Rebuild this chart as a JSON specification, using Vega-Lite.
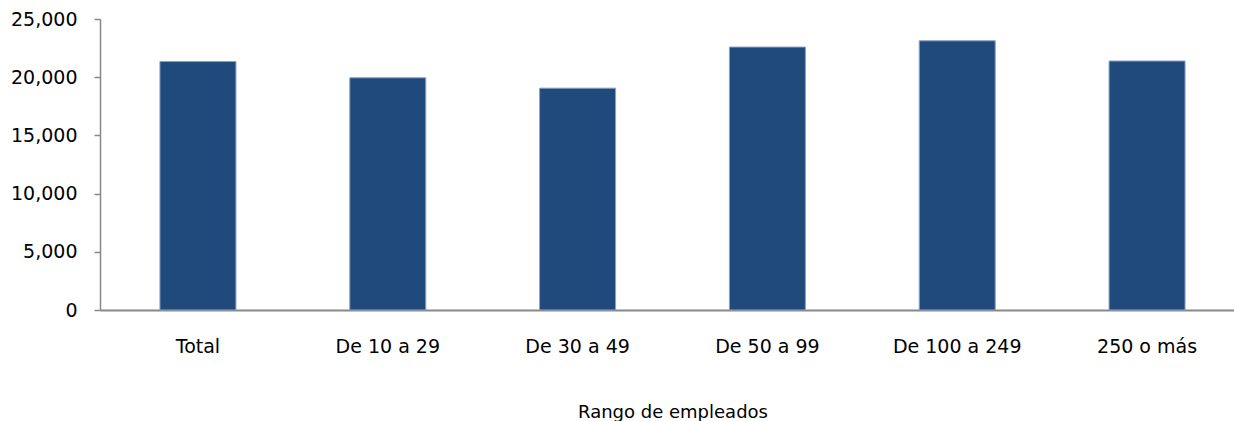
{
  "$schema": "https://vega.github.io/schema/vega-lite/v6.json",
  "autosize": {"type": "none"},
  "width": 1145,
  "height": 291,
  "padding": {"left": 100, "top": 19, "right": 0, "bottom": 111},
  "background": "white",
  "data": {
    "values": [
      {"rango": "Total", "valor": 21350},
      {"rango": "De 10 a 29", "valor": 19950},
      {"rango": "De 30 a 49", "valor": 19060},
      {"rango": "De 50 a 99", "valor": 22590},
      {"rango": "De 100 a 249", "valor": 23130},
      {"rango": "250 o más", "valor": 21390}
    ]
  },
  "mark": {"type": "bar", "color": "#204a7c", "stroke": "#8aa3c4", "strokeWidth": 1, "width": 76},
  "encoding": {
    "x": {
      "field": "rango",
      "type": "nominal",
      "sort": null,
      "scale": {"paddingInner": 0.6, "paddingOuter": 0.316},
      "axis": {
        "title": "Rango de empleados",
        "labelAngle": 0,
        "ticks": false,
        "labelPadding": 27,
        "labelFont": "DejaVu Sans",
        "labelFontSize": 19,
        "labelColor": "#000000",
        "titleFont": "DejaVu Sans",
        "titleFontSize": 18,
        "titleFontWeight": "normal",
        "titleColor": "#000000",
        "titlePadding": 47,
        "domainColor": "#888888",
        "domainWidth": 2
      }
    },
    "y": {
      "field": "valor",
      "type": "quantitative",
      "scale": {"domain": [0, 25000], "nice": false},
      "axis": {
        "title": null,
        "values": [0, 5000, 10000, 15000, 20000, 25000],
        "format": ",.0f",
        "grid": false,
        "tickSize": 6,
        "tickColor": "#888888",
        "tickWidth": 1.5,
        "domainColor": "#888888",
        "domainWidth": 1.5,
        "labelPadding": 17,
        "labelFont": "DejaVu Sans",
        "labelFontSize": 19,
        "labelColor": "#000000"
      }
    }
  },
  "config": {"view": {"stroke": null}}
}
